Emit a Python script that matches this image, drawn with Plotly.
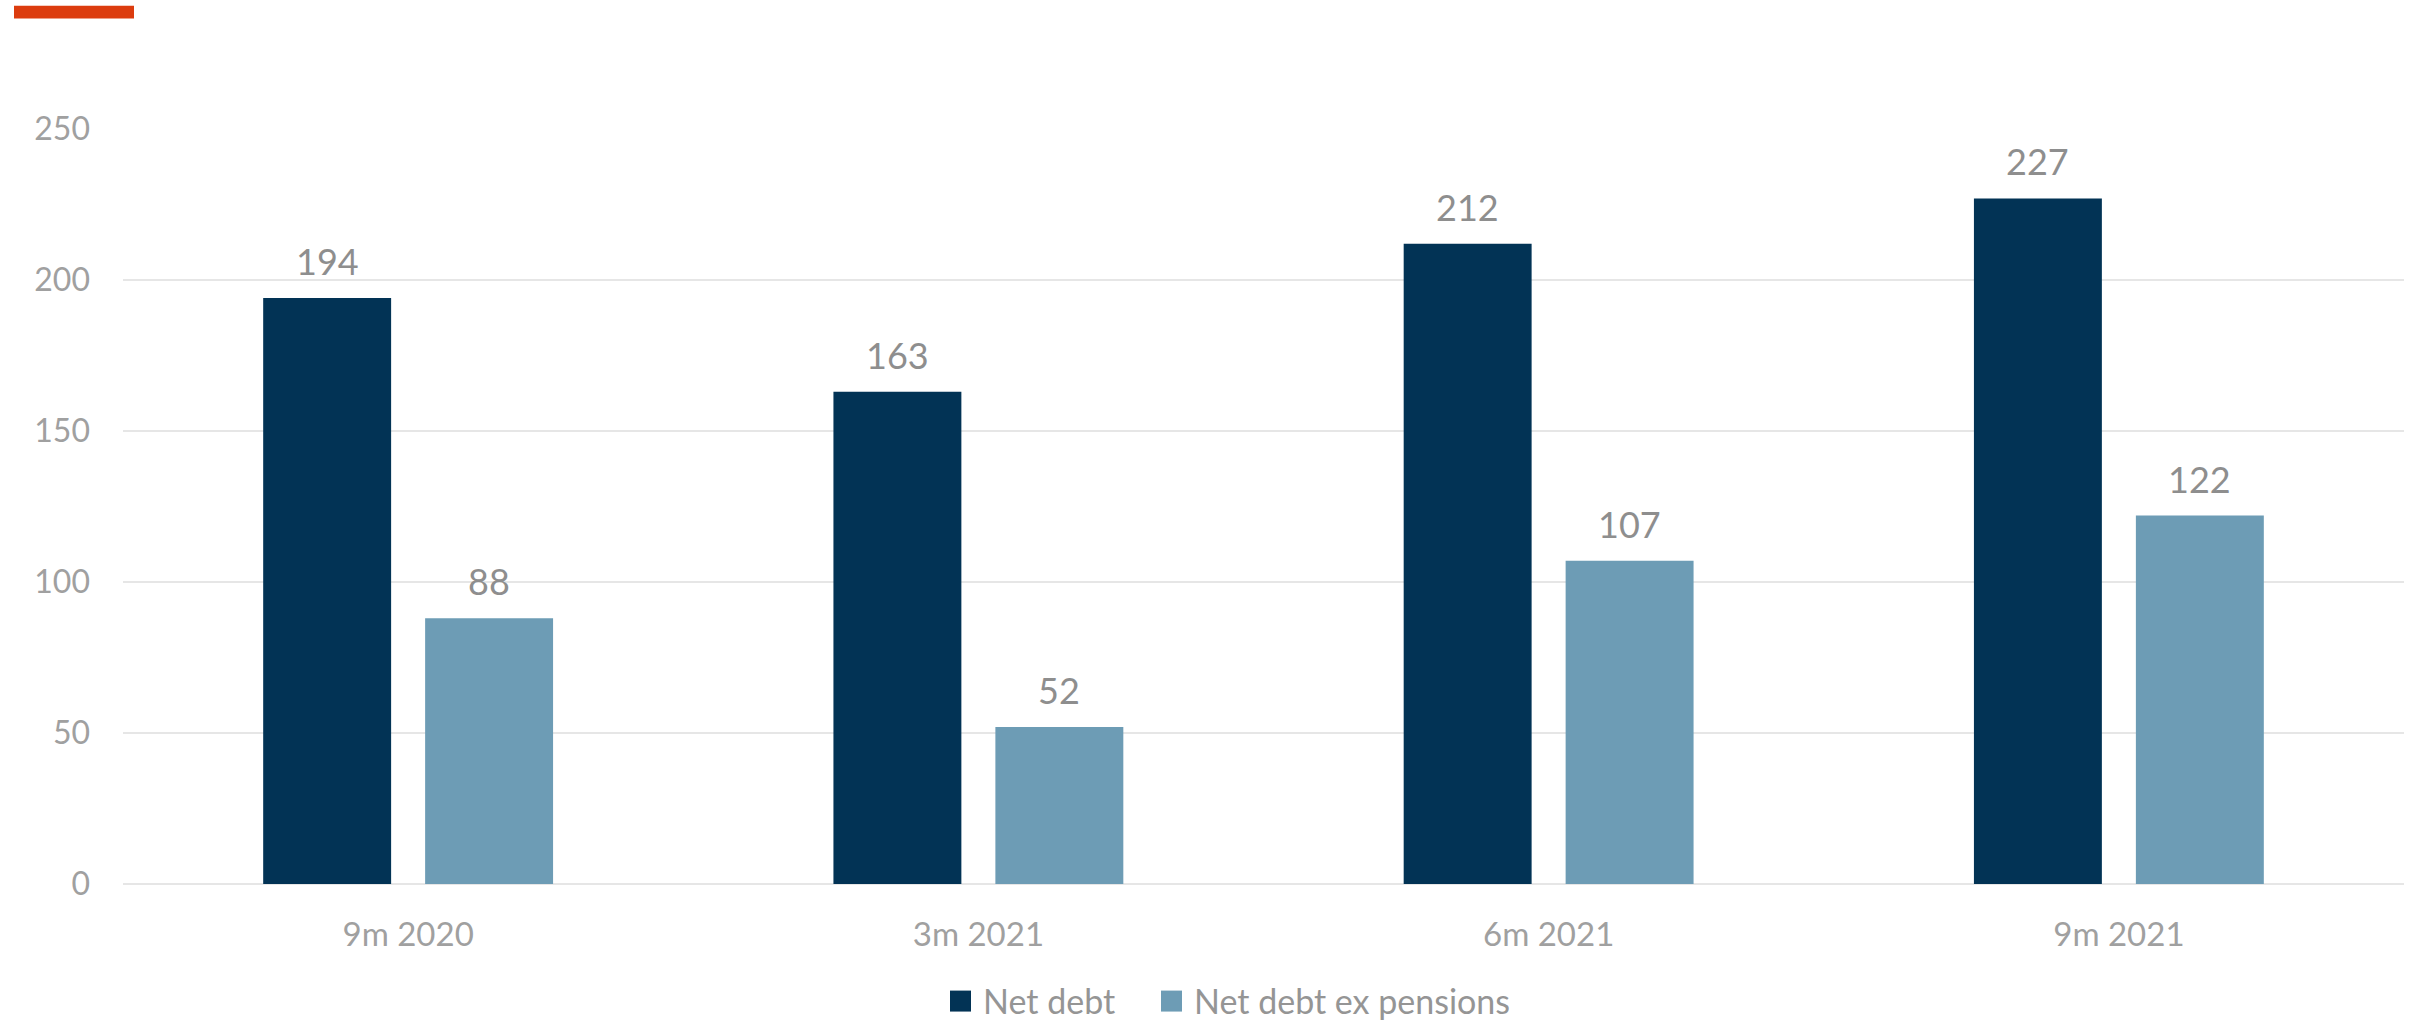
import plotly.graph_objects as go

# Reporting periods and series values
periods = ["9m 2020", "3m 2021", "6m 2021", "9m 2021"]
net_debt = [194, 163, 212, 227]
net_debt_ex_pensions = [88, 52, 107, 122]
series_names = ["Net debt", "Net debt ex pensions"]
series_colors = ["#023355", "#6D9CB5"]
y_ticks = [0, 50, 100, 150, 200, 250]

W, H = 2425, 1020
M_L, M_R, M_T, M_B = 123, 21, 128.5, 135.7
plot_w = W - M_L - M_R
plot_h = H - M_T - M_B

FONT = "Lato"
LABEL_GREY = "#8e8e8e"
TICK_GREY = "#a0a0a0"

fig = go.Figure()
for name, vals, col in zip(series_names, [net_debt, net_debt_ex_pensions], series_colors):
    fig.add_trace(go.Bar(x=periods, y=vals, name=name, marker=dict(color=col, line=dict(width=0)),
                         showlegend=False, hoverinfo="x+y+name"))

# Value labels above each bar
half_slot = 81
for offset, vals in zip([-half_slot, half_slot], [net_debt, net_debt_ex_pensions]):
    for p, v in zip(periods, vals):
        fig.add_annotation(x=p, y=v, text=str(v), showarrow=False, xshift=offset, yshift=37,
                           yanchor="middle", xanchor="center",
                           font=dict(family=FONT, size=36, color=LABEL_GREY))

# Legend drawn as squares and labels below the axis
def px_x(px):
    return (px - M_L) / plot_w

def px_y(py):
    return (H - M_B - py) / plot_h

legend_items = [(950, 981), (1161, 1192)]
for (sq_x, tx), name, col in zip(legend_items, series_names, series_colors):
    fig.add_shape(type="rect", xref="paper", yref="paper",
                  x0=px_x(sq_x), x1=px_x(sq_x + 21), y0=px_y(1012), y1=px_y(991),
                  fillcolor=col, line=dict(width=0))
    fig.add_annotation(xref="paper", yref="paper", x=px_x(tx), y=px_y(1001), text=name,
                       showarrow=False, xanchor="left", yanchor="middle",
                       font=dict(family=FONT, size=34, color="#959595"))

# Accent bar at the top-left corner
fig.add_shape(type="rect", xref="paper", yref="paper",
              x0=px_x(14), x1=px_x(134), y0=px_y(18), y1=px_y(5),
              fillcolor="#DC3C0E", line=dict(width=0))

fig.update_layout(
    width=W, height=H,
    margin=dict(l=M_L, r=M_R, t=M_T, b=M_B, autoexpand=False),
    paper_bgcolor="white", plot_bgcolor="white",
    barmode="group", bargap=0.432, bargroupgap=0.21,
    showlegend=False,
    font=dict(family=FONT, color=TICK_GREY),
)
fig.update_xaxes(showgrid=False, showline=False, ticks="", ticklabelstandoff=28,
                 tickfont=dict(family=FONT, size=33, color=TICK_GREY))
fig.update_yaxes(range=[0, 250], tickvals=y_ticks, showgrid=True, gridcolor="#e6e6e6", gridwidth=2,
                 zeroline=True, zerolinecolor="#e6e6e6", zerolinewidth=2, showline=False, ticks="",
                 ticklabelstandoff=32, tickfont=dict(family=FONT, size=32, color=TICK_GREY))

fig.write_html("out.html")
